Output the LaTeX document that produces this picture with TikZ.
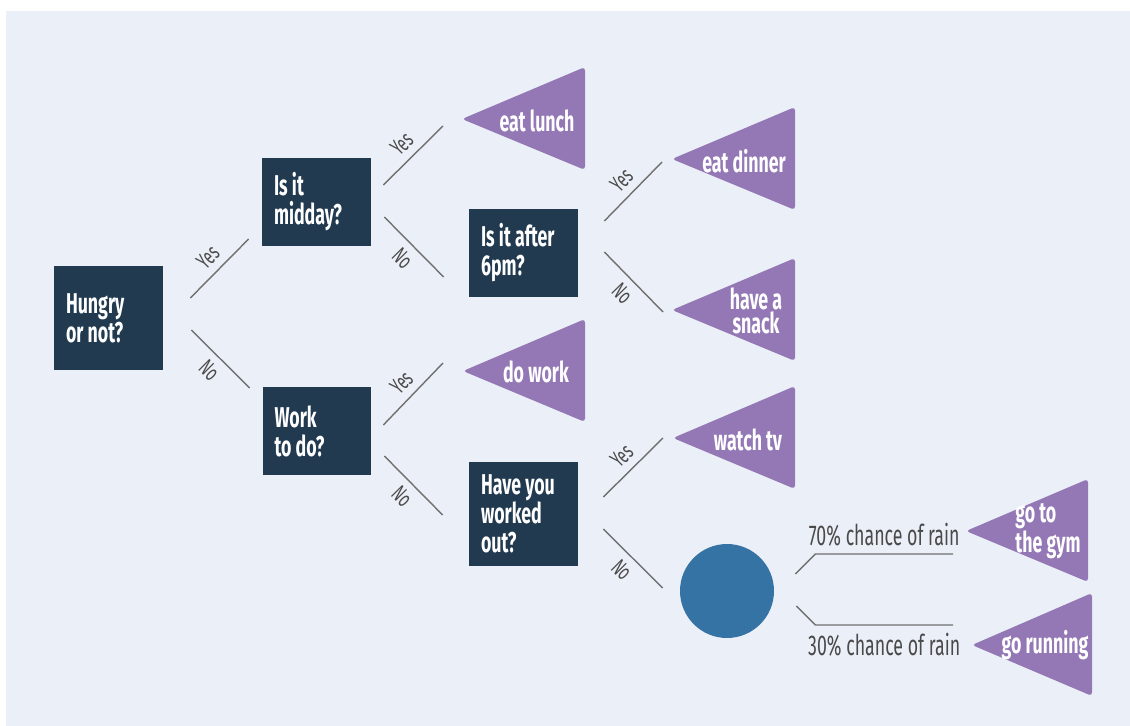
\documentclass[tikz,border=0pt]{standalone}
\usepackage{fontspec}
\setmainfont{Fira Sans}[FakeStretch=0.62]
\usepackage{tikz}
\usetikzlibrary{positioning}
\definecolor{bgcol}{HTML}{EBEFF7}
\definecolor{boxcol}{HTML}{213A4F}
\definecolor{leafcol}{HTML}{9478B6}
\definecolor{chancecol}{HTML}{3673A5}
\definecolor{linecol}{HTML}{707070}
\definecolor{labelcol}{HTML}{4A4A4A}

\begin{document}
\begin{tikzpicture}[x=0.02cm,y=-0.02cm,
  box/.style={fill=boxcol,text=white,font=\bfseries\fontsize{16.3}{16.5}\selectfont,
    align=flush left,text width=1.7cm,inner xsep=0.24cm,inner ysep=0pt,minimum height=1.76cm},
  leaf/.style={text=white,font=\bfseries\fontsize{16.3}{14}\selectfont,align=center,inner sep=0pt},
  branch/.style={linecol,line width=0.8pt},
  yes/.style={midway,sloped,above=0.15cm,inner sep=0pt,text=labelcol,font=\fontsize{13}{14}\selectfont},
  no/.style={midway,sloped,below=0.15cm,inner sep=0pt,text=labelcol,font=\fontsize{13}{14}\selectfont},
  chance/.style={inner sep=0pt,text=labelcol,font=\fontsize{16.3}{17}\selectfont}]
  \fill[white] (0,0) rectangle (1130,726);
  \fill[bgcol] (6,11) rectangle (1130,726);

  \node[box,minimum height=2.08cm] (hungry) at (108.5,318) {Hungry\\or not?};
  \node[box] (midday) at (316.5,202) {Is it\\midday?};
  \node[box] (work) at (317,431) {Work\\to do?};
  \node[box] (sixpm) at (523.5,253) {Is it after\\6pm?};
  \node[box,minimum height=2.08cm] (workedout) at (523.5,514) {Have you\\worked\\out?};
  \node[circle,fill=chancecol,minimum size=1.88cm,inner sep=0pt] (rain) at (727,591) {};

  \foreach \n/\ax/\ay/\rx in {lunch/462/119/585,dinner/672/159/795,snack/672/310/795,
    dowork/463/371/585,tv/673/438/795,gym/966/531/1088,running/972/645/1092}
    \fill[leafcol,rounded corners=2pt] (\ax,\ay) coordinate (\n-tip)
      -- (\rx,\ay-52) -- (\rx,\ay+51) -- cycle;

  \node[leaf] (lunch) at (537,121) {eat lunch};
  \node[leaf] (dinner) at (744,161) {eat dinner};
  \node[leaf] (snack) at (756,311) {have a\\snack};
  \node[leaf] (dowork) at (536,372) {do work};
  \node[leaf] (tv) at (748,440) {watch tv};
  \node[leaf,align=left,font=\bfseries\fontsize{16.3}{12.5}\selectfont] (gym) at (1048,531) {go to\\the gym};
  \node[leaf] (running) at (1045,645) {go running};

  \draw[branch] ([shift={(27,-20)}]hungry.east) -- node[yes]{Yes} ([shift={(-13,37)}]midday.west);
  \draw[branch] ([shift={(28,12)}]hungry.east) -- node[no]{No} ([shift={(-12.5,-43)}]work.west);
  \draw[branch] ([shift={(12,-17)}]midday.east) -- node[yes]{Yes} ([shift={(-19,7)}]lunch-tip);
  \draw[branch] ([shift={(13,15)}]midday.east) -- node[no]{No} ([shift={(-25,24)}]sixpm.west);
  \draw[branch] ([shift={(11.5,-6)}]work.east) -- node[yes]{Yes} ([shift={(-20,-8)}]dowork-tip);
  \draw[branch] ([shift={(12.5,25)}]work.east) -- node[no]{No} ([shift={(-26,1)}]workedout.west);
  \draw[branch] ([shift={(26,-32)}]sixpm.east) -- node[yes]{Yes} ([shift={(-10,3)}]dinner-tip);
  \draw[branch] ([shift={(26,-1)}]sixpm.east) -- node[no]{No} ([shift={(-9,2)}]snack-tip);
  \draw[branch] ([shift={(25,-17)}]workedout.east) -- node[yes]{Yes} ([shift={(-10,0)}]tv-tip);
  \draw[branch] ([shift={(25,15)}]workedout.east) -- node[no]{No} ([shift={(-17,-3)}]rain.west);
  \draw[branch] ([shift={(21,-17)}]rain.east) -- ++(20,-20)
    -- node[chance,midway,above=4pt]{70\% chance of rain} ([shift={(-13,23)}]gym-tip);
  \draw[branch] ([shift={(22,15)}]rain.east) -- ++(19,19)
    -- node[chance,midway,below=4pt]{30\% chance of rain} ([shift={(-19,-20)}]running-tip);
\end{tikzpicture}
\end{document}
